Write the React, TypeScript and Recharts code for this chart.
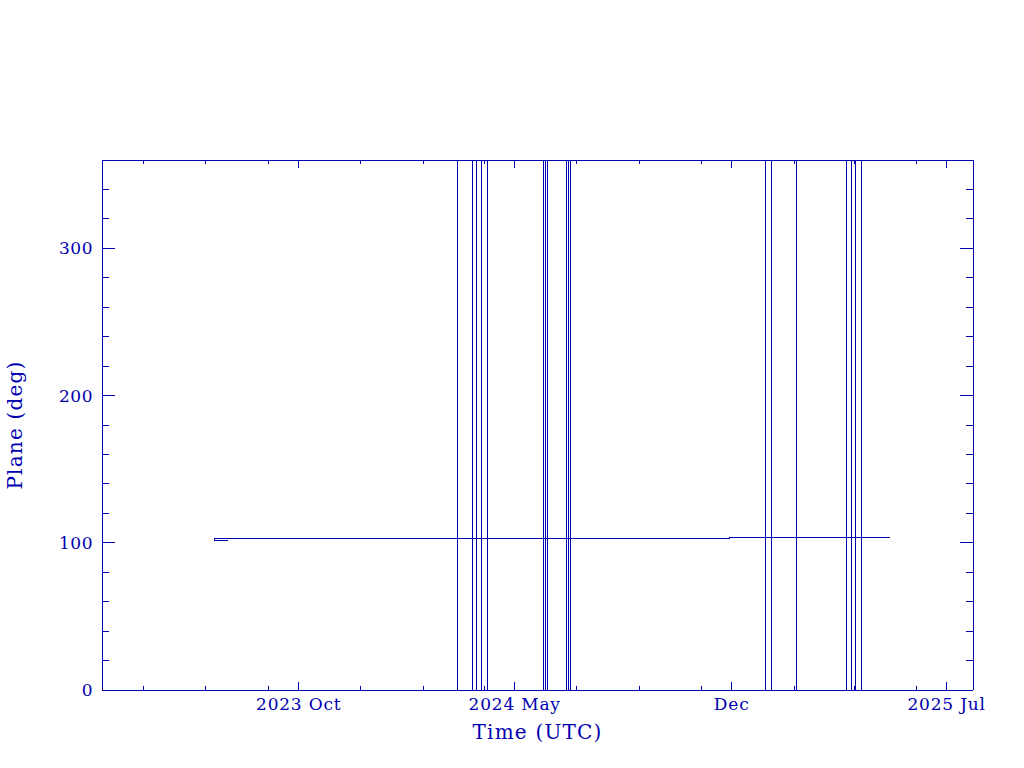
import { LineChart, Line, XAxis, YAxis } from "recharts";

const BLUE = "#0000b0";
const FONT = "'DejaVu Serif', 'Liberation Serif', serif";

// x range of the frame and its ticks
const X_DOMAIN = ["2023-03-21", "2025-07-27"];
const X_MAJOR_DATES = ["2023-10-01", "2024-05-01", "2024-12-01", "2025-07-01"];
const X_MAJOR_LABELS = ["2023 Oct", "2024 May", "Dec", "2025 Jul"];
const X_MINOR_DATES = [
  "2023-05-01", "2023-07-01", "2023-09-01", "2023-12-01",
  "2024-02-01", "2024-04-01", "2024-07-01", "2024-09-01",
  "2024-11-01", "2025-02-01", "2025-04-01", "2025-06-01",
];

const Y_MAJOR = [0, 100, 200, 300];
const Y_MINOR = [20, 40, 60, 80, 120, 140, 160, 180, 220, 240, 260, 280, 320, 340];

// plane angle: short dip at the start, then a flat level that steps up once
const DIP_DATES = ["2023-07-23", "2023-07-10"];
const DIP_VALUE = 101.3;
const LEVEL_DATES = ["2023-07-10", "2024-11-29"];
const LEVEL_VALUES = [102.6, 103.3];
const END_DATE = "2025-05-06";

// dates where the angle wraps through 0 / 360
const WRAP_DATES = [
  "2024-03-06", "2024-03-20", "2024-03-24", "2024-03-29", "2024-04-04",
  "2024-05-29", "2024-05-31", "2024-06-02",
  "2024-06-21", "2024-06-23", "2024-06-25",
  "2025-01-03", "2025-01-09", "2025-02-03",
  "2025-03-24", "2025-03-29", "2025-04-02", "2025-04-08",
];

const ms = (d: string) => Date.parse(d + "T00:00:00Z");

const levelAt = (t: number) => {
  let v = LEVEL_VALUES[0];
  LEVEL_DATES.forEach((d, i) => {
    if (t >= ms(d)) v = LEVEL_VALUES[i];
  });
  return v;
};

function buildData() {
  const pts: { t: number; v: number }[] = [];
  DIP_DATES.forEach((d) => pts.push({ t: ms(d), v: DIP_VALUE }));
  pts.push({ t: ms(LEVEL_DATES[0]), v: LEVEL_VALUES[0] });

  const events: { t: number; kind: string; i: number }[] = [];
  WRAP_DATES.forEach((d, i) => events.push({ t: ms(d), kind: "wrap", i }));
  LEVEL_DATES.slice(1).forEach((d, i) => events.push({ t: ms(d), kind: "step", i: i + 1 }));
  events.sort((a, b) => a.t - b.t);

  events.forEach((e) => {
    if (e.kind === "wrap") {
      const base = levelAt(e.t);
      pts.push({ t: e.t, v: base }, { t: e.t, v: 0 }, { t: e.t, v: 360 }, { t: e.t, v: base });
    } else {
      pts.push({ t: e.t, v: LEVEL_VALUES[e.i - 1] }, { t: e.t, v: LEVEL_VALUES[e.i] });
    }
  });
  pts.push({ t: ms(END_DATE), v: levelAt(ms(END_DATE)) });
  return pts;
}

const data = buildData();

const xMajor = X_MAJOR_DATES.map(ms);
const xTicks = [...xMajor, ...X_MINOR_DATES.map(ms)].sort((a, b) => a - b);
const yTicks = [...Y_MAJOR, ...Y_MINOR].sort((a, b) => a - b);

function BottomTick(props: any) {
  const { x, y, payload } = props;
  const idx = xMajor.indexOf(payload.value);
  const len = idx >= 0 ? 8 : 4;
  return (
    <g>
      <line x1={x} y1={y} x2={x} y2={y - len} stroke={BLUE} shapeRendering="crispEdges" />
      {idx >= 0 && (
        <text x={x} y={y + 20} textAnchor="middle" fill={BLUE} fontSize={17} fontFamily={FONT} letterSpacing={0.8}>
          {X_MAJOR_LABELS[idx]}
        </text>
      )}
    </g>
  );
}

function TopTick(props: any) {
  const { x, y, payload } = props;
  const len = xMajor.includes(payload.value) ? 8 : 4;
  return <line x1={x} y1={y} x2={x} y2={y + len} stroke={BLUE} shapeRendering="crispEdges" />;
}

function LeftTick(props: any) {
  const { x, y, payload } = props;
  const major = Y_MAJOR.includes(payload.value);
  return (
    <g>
      <line x1={x} y1={y} x2={x + (major ? 13 : 7)} y2={y} stroke={BLUE} shapeRendering="crispEdges" />
      {major && (
        <text x={x - 9} y={y + 6} textAnchor="end" fill={BLUE} fontSize={17} fontFamily={FONT} letterSpacing={0.5}>
          {payload.value}
        </text>
      )}
    </g>
  );
}

function RightTick(props: any) {
  const { x, y, payload } = props;
  const major = Y_MAJOR.includes(payload.value);
  return <line x1={x} y1={y} x2={x - (major ? 13 : 7)} y2={y} stroke={BLUE} shapeRendering="crispEdges" />;
}

function YTitle(props: any) {
  const vb = props.viewBox || { y: 160, height: 530 };
  const cx = 22;
  const cy = vb.y + vb.height / 2;
  return (
    <text x={cx} y={cy} transform={`rotate(-90 ${cx} ${cy})`} textAnchor="middle" fill={BLUE} fontSize={20} fontFamily={FONT} letterSpacing={1.2}>
      Plane (deg)
    </text>
  );
}

const axisLine = { stroke: BLUE, shapeRendering: "crispEdges" };

export default function App() {
  return (
    <div style={{ position: "absolute", left: 0, top: 0, width: 1024, height: 768, background: "#fff" }}>
      <LineChart width={1024} height={768} data={data} margin={{ top: 159, right: 50, bottom: 48, left: 0 }}>
        <XAxis
          dataKey="t"
          type="number"
          domain={X_DOMAIN.map(ms)}
          ticks={xTicks}
          interval={0}
          tick={<BottomTick />}
          tickLine={false}
          tickSize={0}
          tickMargin={0}
          axisLine={axisLine}
          height={30}
          allowDataOverflow
          label={{ value: "Time (UTC)", position: "bottom", offset: 5, fill: BLUE, fontSize: 20, fontFamily: FONT, letterSpacing: 1.2 }}
        />
        <XAxis
          xAxisId="top"
          orientation="top"
          dataKey="t"
          type="number"
          domain={X_DOMAIN.map(ms)}
          ticks={xTicks}
          interval={0}
          tick={<TopTick />}
          tickLine={false}
          tickSize={0}
          tickMargin={0}
          axisLine={axisLine}
          height={1}
          allowDataOverflow
        />
        <YAxis
          type="number"
          domain={[0, 360]}
          ticks={yTicks}
          interval={0}
          tick={<LeftTick />}
          tickLine={false}
          tickSize={0}
          tickMargin={0}
          axisLine={axisLine}
          width={102}
          allowDataOverflow
          label={<YTitle />}
        />
        <YAxis
          yAxisId="right"
          orientation="right"
          type="number"
          domain={[0, 360]}
          ticks={yTicks}
          interval={0}
          tick={<RightTick />}
          tickLine={false}
          tickSize={0}
          tickMargin={0}
          axisLine={axisLine}
          width={1}
          allowDataOverflow
        />
        <Line
          type="linear"
          dataKey="v"
          stroke={BLUE}
          strokeWidth={1}
          dot={false}
          activeDot={false}
          isAnimationActive={false}
          shapeRendering="crispEdges"
        />
      </LineChart>
    </div>
  );
}
